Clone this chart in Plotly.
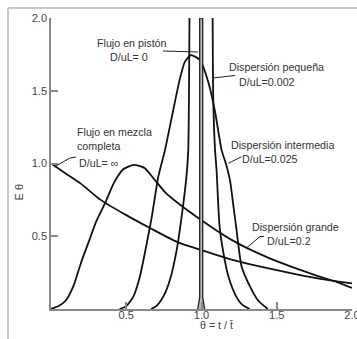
import plotly.graph_objects as go

# ---------------- data ----------------
# Mixed flow, D/uL = infinity
mixed_theta = [0.0, 0.1, 0.2, 0.33, 0.5, 0.66, 0.84, 1.0, 1.2, 1.4, 1.6, 1.8, 1.9, 2.0]
mixed_E = [1.0, 0.93, 0.86, 0.75, 0.645, 0.555, 0.46, 0.405, 0.34, 0.29, 0.245, 0.205, 0.19, 0.176]

# Large dispersion, D/uL = 0.2
large_theta = [0.0, 0.05, 0.1, 0.15, 0.2, 0.25, 0.3, 0.36, 0.42, 0.48, 0.55, 0.62, 0.68,
               0.76, 0.86, 1.0, 1.1, 1.2, 1.3, 1.45, 1.6, 1.75, 1.9, 2.0]
large_E = [0.0, 0.02, 0.06, 0.16, 0.32, 0.46, 0.6, 0.73, 0.87, 0.96, 0.99, 0.97, 0.9,
           0.8, 0.715, 0.61, 0.54, 0.475, 0.42, 0.35, 0.29, 0.235, 0.185, 0.145]

# Intermediate dispersion, D/uL = 0.025
inter_theta = [0.455, 0.5, 0.547, 0.59, 0.636, 0.67, 0.713, 0.757, 0.81, 0.857, 0.89, 0.93,
               0.99, 1.045, 1.09, 1.134, 1.165, 1.19, 1.213, 1.232, 1.267, 1.322, 1.375, 1.44]
inter_E = [0.0, 0.02, 0.085, 0.22, 0.45, 0.635, 0.91, 1.09, 1.356, 1.585, 1.70, 1.745,
           1.71, 1.56, 1.356, 1.09, 0.99, 0.88, 0.7, 0.55, 0.29, 0.155, 0.06, 0.0]

# Small dispersion, D/uL = 0.002 (peak runs off the top of the chart)
small_theta = [0.665, 0.70, 0.746, 0.79, 0.835, 0.868, 0.90, 0.912, 0.917, 0.92, 0.922, 1.0,
               1.072, 1.074, 1.077, 1.083, 1.09, 1.10, 1.12, 1.15, 1.18, 1.23, 1.27, 1.32]
small_E = [0.0, 0.02, 0.085, 0.2, 0.405, 0.635, 0.91, 1.09, 1.5, 2.0, 2.4, 2.9,
           2.4, 2.0, 1.5, 1.25, 1.09, 0.955, 0.57, 0.36, 0.22, 0.087, 0.03, 0.0]

# Plug flow, D/uL = 0 (delta at theta = 1)
plug_theta = [0.975, 0.988, 0.988, 1.008, 1.008, 1.021]
plug_E = [0.0, 0.08, 2.0, 2.0, 0.08, 0.0]

x_ticks = [0.5, 1.0, 1.5, 2.0]
y_ticks = [0.5, 1.0, 1.5, 2.0]

# ---------------- layout helpers ----------------
W, H = 357, 339
L, R, T, B = 51, 5, 18, 30
PW, PH = W - L - R, H - T - B
X0, X1, Y0, Y1 = 0.0, 2.0, 0.0, 2.0


def dx(px):
    return X0 + (px - L) / PW * (X1 - X0)


def dy(py):
    return Y0 + (H - B - py) / PH * (Y1 - Y0)


def paper_x(px):
    return (px - L) / PW


def paper_y(py):
    return (H - B - py) / PH


FONT = "Liberation Sans, Arial, sans-serif"
TXT = "#333333"
CURVE = "#111111"

fig = go.Figure()

curve_style = dict(color=CURVE, width=1.8, shape="spline", smoothing=0.6)
for th, e in [(mixed_theta, mixed_E), (large_theta, large_E),
              (inter_theta, inter_E), (small_theta, small_E)]:
    fig.add_trace(go.Scatter(x=th, y=e, mode="lines", line=curve_style,
                             hoverinfo="skip", showlegend=False))

fig.add_trace(go.Scatter(x=plug_theta, y=plug_E, mode="lines", fill="toself",
                         fillcolor="#bdbdbd", line=dict(color="#222222", width=1.3),
                         hoverinfo="skip", showlegend=False))

# ---------------- annotations ----------------
labels = [
    ("Flujo en pistón", 131.7, 43.3, "center"),
    ("D/uL= 0", 129, 57.3, "center"),
    ("Dispersión pequeña", 276.3, 66.7, "center"),
    ("D/uL=0.002", 237.5, 81.7, "left"),
    ("Flujo en mezcla", 75.5, 131.7, "left"),
    ("completa", 75.5, 145.7, "left"),
    ("D/uL= ∞", 77.5, 162.7, "left"),
    ("Dispersión intermedia", 229.5, 145, "left"),
    ("D/uL=0.025", 241, 159.3, "left"),
    ("Dispersión grande", 251, 226.7, "left"),
    ("D/uL=0.2", 266, 240.7, "left"),
]
annotations = []
for text, px, py, anc in labels:
    annotations.append(dict(text=text, x=dx(px), y=dy(py), xref="x", yref="y",
                            xanchor=anc, yanchor="middle", showarrow=False,
                            borderpad=0, font=dict(family=FONT, size=10.7, color=TXT)))

annotations.append(dict(text="E θ", x=paper_x(18.5), y=paper_y(192), xref="paper",
                        yref="paper", textangle=-90, showarrow=False,
                        xanchor="center", yanchor="middle",
                        font=dict(family=FONT, size=11, color="#444444")))
annotations.append(dict(text="θ = t / t\u0304", x=paper_x(216.5), y=paper_y(324.5),
                        xref="paper", yref="paper", showarrow=False,
                        xanchor="center", yanchor="middle",
                        font=dict(family=FONT, size=10.7, color="#444444")))

# ---------------- leader lines and frame ----------------
shapes = []
leaders = [
    [(163, 51), (198, 52)],
    [(213, 78), (235, 75.5)],
    [(54, 167), (70, 158), (76, 157)],
    [(228.3, 163.3), (241.7, 156.7)],
    [(247, 247.5), (260, 236.5), (264, 236.5)],
]
for pts in leaders:
    path = "M " + " L ".join(f"{dx(a)},{dy(b)}" for a, b in pts)
    shapes.append(dict(type="path", path=path, xref="x", yref="y",
                       line=dict(color="#222222", width=1)))

frame_col = "#c8c8c8"
shapes.append(dict(type="line", xref="paper", yref="paper",
                   x0=paper_x(8), y0=paper_y(8), x1=paper_x(W + 2), y1=paper_y(8),
                   line=dict(color=frame_col, width=2)))
shapes.append(dict(type="line", xref="paper", yref="paper",
                   x0=paper_x(8), y0=paper_y(8), x1=paper_x(8), y1=paper_y(H + 2),
                   line=dict(color=frame_col, width=2)))

axis_common = dict(showgrid=False, zeroline=False, showline=True, automargin=False,
                   linecolor="#8a8a8a", linewidth=1.5, ticks="inside", ticklen=7,
                   tickwidth=1.5, tickcolor="#8a8a8a", tickformat=".1f",
                   ticklabeloverflow="allow",
                   tickfont=dict(family=FONT, size=11, color="#444444"))

fig.update_layout(
    width=W, height=H,
    margin=dict(l=L, r=R, t=T, b=B, pad=0, autoexpand=False),
    paper_bgcolor="white", plot_bgcolor="white",
    showlegend=False,
    xaxis=dict(range=[X0, X1], tickvals=x_ticks, ticklabelstandoff=-5, **axis_common),
    yaxis=dict(range=[Y0, Y1], tickvals=y_ticks, **axis_common),
    annotations=annotations,
    shapes=shapes,
)

fig.write_html("out.html")
